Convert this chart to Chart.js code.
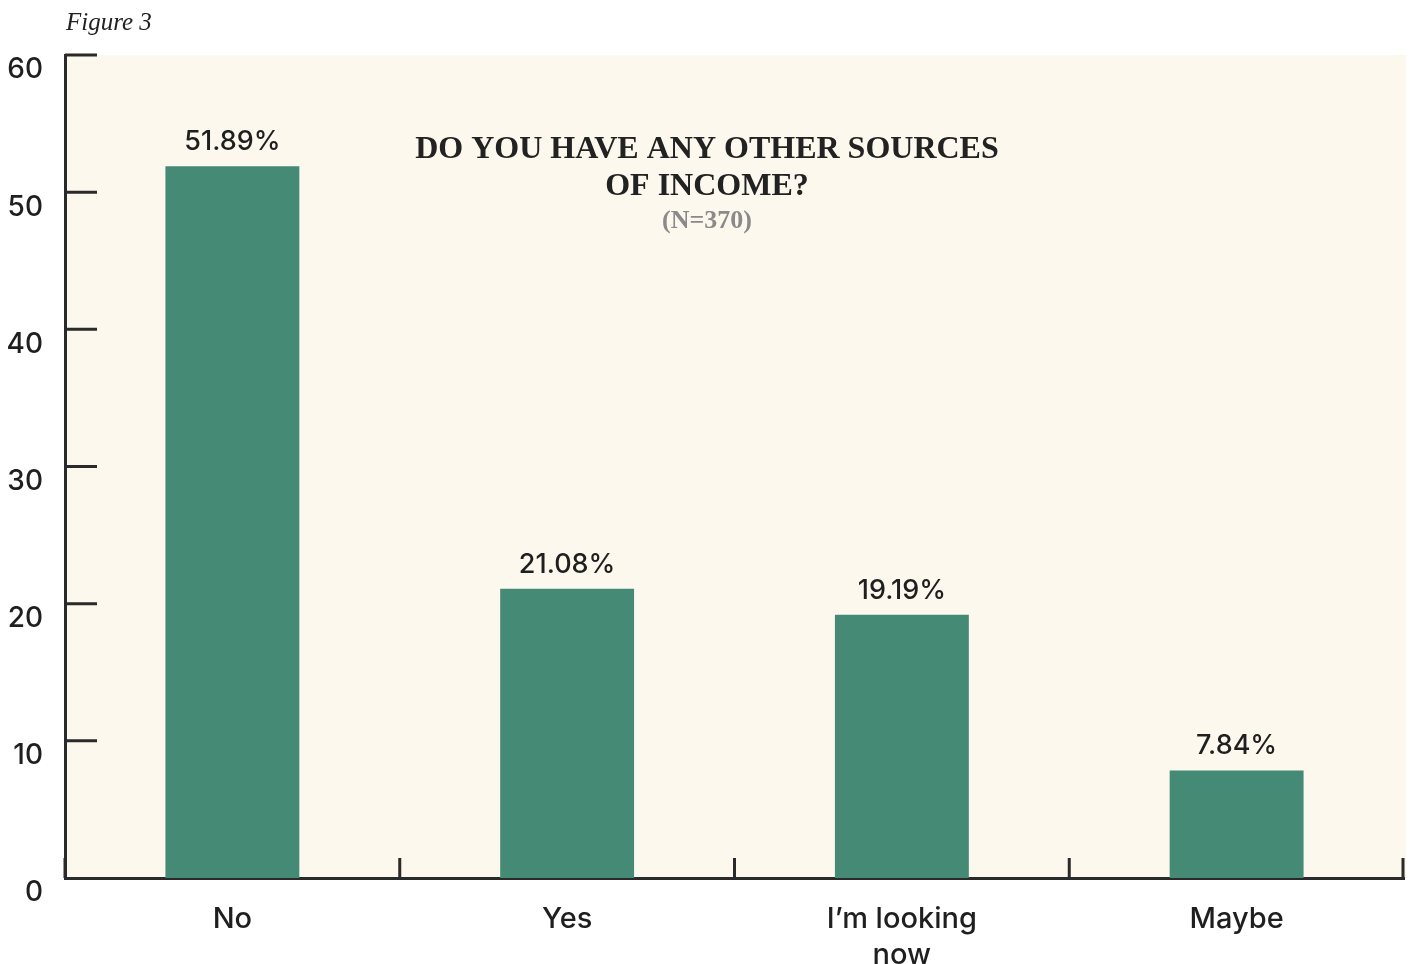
<!DOCTYPE html>
<html>
<head>
<meta charset="utf-8">
<script src="https://cdn.jsdelivr.net/npm/chart.js@4"></script>
<style>
  html, body { margin: 0; padding: 0; background: #ffffff; }
  #wrap { width: 1410px; height: 964px; }
</style>
</head>
<body>
<div id="wrap"><canvas id="incomeChart" width="1410" height="964"></canvas></div>
<script>
// data
var categories = ['No', 'Yes', ['I\u2019m looking', 'now'], 'Maybe'];
var shares = [51.89, 21.08, 19.19, 7.84];
var shareLabels = ['51.89%', '21.08%', '19.19%', '7.84%'];
var yTicks = [0, 10, 20, 30, 40, 50, 60];
var titleLines = ['DO YOU HAVE ANY OTHER SOURCES', 'OF INCOME?'];
var subTitle = '(N=370)';
var figureLabel = 'Figure 3';

var ink = '#2b2a2a';
var textInk = '#1f1f1f';
var sans = 'Inter, "Open Sans", sans-serif';
var serif = '"Liberation Serif", "DejaVu Serif", serif';

// cream plot background
var bgPlugin = {
    id: 'bg',
    beforeDraw: function (chart) {
        var a = chart.chartArea, ctx = chart.ctx;
        ctx.save();
        ctx.fillStyle = '#fcf8ee';
        ctx.fillRect(a.left, a.top, a.right - a.left + 2, a.bottom - a.top);
        ctx.restore();
    }
};

// inward tick marks on both axes
var tickPlugin = {
    id: 'ticks',
    afterDraw: function (chart) {
        var a = chart.chartArea, ctx = chart.ctx;
        var xs = chart.scales.x, ys = chart.scales.y;
        ctx.save();
        ctx.strokeStyle = ink;
        ctx.lineWidth = 3;
        ctx.beginPath();
        yTicks.forEach(function (v) {
            if (v === 0) return;
            var y = ys.getPixelForValue(v);
            ctx.moveTo(a.left, y);
            ctx.lineTo(a.left + 32, y);
        });
        var half = (xs.getPixelForValue(1) - xs.getPixelForValue(0)) / 2;
        for (var i = 0; i <= categories.length; i++) {
            var x = xs.getPixelForValue(i) - half;
            if (i === categories.length) x -= 1;
            ctx.moveTo(x, a.bottom);
            ctx.lineTo(x, a.bottom - 20);
        }
        ctx.stroke();
        ctx.restore();
    }
};

// value labels above bars
var valuePlugin = {
    id: 'values',
    afterDatasetsDraw: function (chart) {
        var ctx = chart.ctx;
        var bars = chart.getDatasetMeta(0).data;
        ctx.save();
        ctx.fillStyle = textInk;
        ctx.font = '500 27px ' + sans;
        ctx.textAlign = 'center';
        ctx.textBaseline = 'alphabetic';
        bars.forEach(function (b, i) {
            ctx.fillText(shareLabels[i], b.x, b.y - 16);
        });
        ctx.restore();
    }
};

// title inside the plot, plus the figure caption
var titlePlugin = {
    id: 'titles',
    afterDraw: function (chart) {
        var ctx = chart.ctx;
        var cx = chart.width / 2 + 2;
        var top = chart.chartArea.top;
        ctx.save();
        ctx.textAlign = 'center';
        ctx.textBaseline = 'middle';
        ctx.fillStyle = '#222222';
        ctx.font = 'bold 32px ' + serif;
        titleLines.forEach(function (t, i) {
            ctx.fillText(t, cx, top + 95 + i * 37);
        });
        ctx.fillStyle = '#8a8a8a';
        ctx.font = 'bold 26px ' + serif;
        ctx.fillText(subTitle, cx, top + 166);
        ctx.textAlign = 'left';
        ctx.fillStyle = '#222222';
        ctx.font = 'italic 25px ' + serif;
        ctx.fillText(figureLabel, 66, 23);
        ctx.restore();
    }
};

var ctx = document.getElementById('incomeChart').getContext('2d');
var incomeChart = new Chart(ctx, {
    type: 'bar',
    data: {
        labels: categories,
        datasets: [{
            data: shares,
            backgroundColor: '#458a75',
            borderWidth: 0,
            barPercentage: 0.4,
            categoryPercentage: 1.0
        }]
    },
    options: {
        responsive: false,
        animation: false,
        layout: { padding: { left: 0, right: 6, top: 55, bottom: 0 } },
        plugins: {
            legend: { display: false },
            title: { display: false },
            tooltip: { enabled: false }
        },
        scales: {
            x: {
                offset: true,
                grid: { display: false, drawOnChartArea: false, drawTicks: false, offset: true },
                border: { display: true, color: ink, width: 3 },
                ticks: {
                    color: textInk,
                    padding: 23,
                    maxRotation: 0,
                    font: { family: sans, size: 29, weight: 500, lineHeight: 1.25 }
                },
                afterFit: function (s) { s.height = 86; }
            },
            y: {
                min: 0,
                max: 60,
                grid: { display: false, drawOnChartArea: false, drawTicks: false },
                border: { display: true, color: ink, width: 3 },
                ticks: {
                    stepSize: 10,
                    color: textInk,
                    padding: 22,
                    labelOffset: 15,
                    font: { family: sans, size: 28, weight: 500 }
                },
                afterFit: function (s) { s.width = 65; }
            }
        }
    },
    plugins: [bgPlugin, tickPlugin, valuePlugin, titlePlugin]
});
</script>
</body>
</html>
